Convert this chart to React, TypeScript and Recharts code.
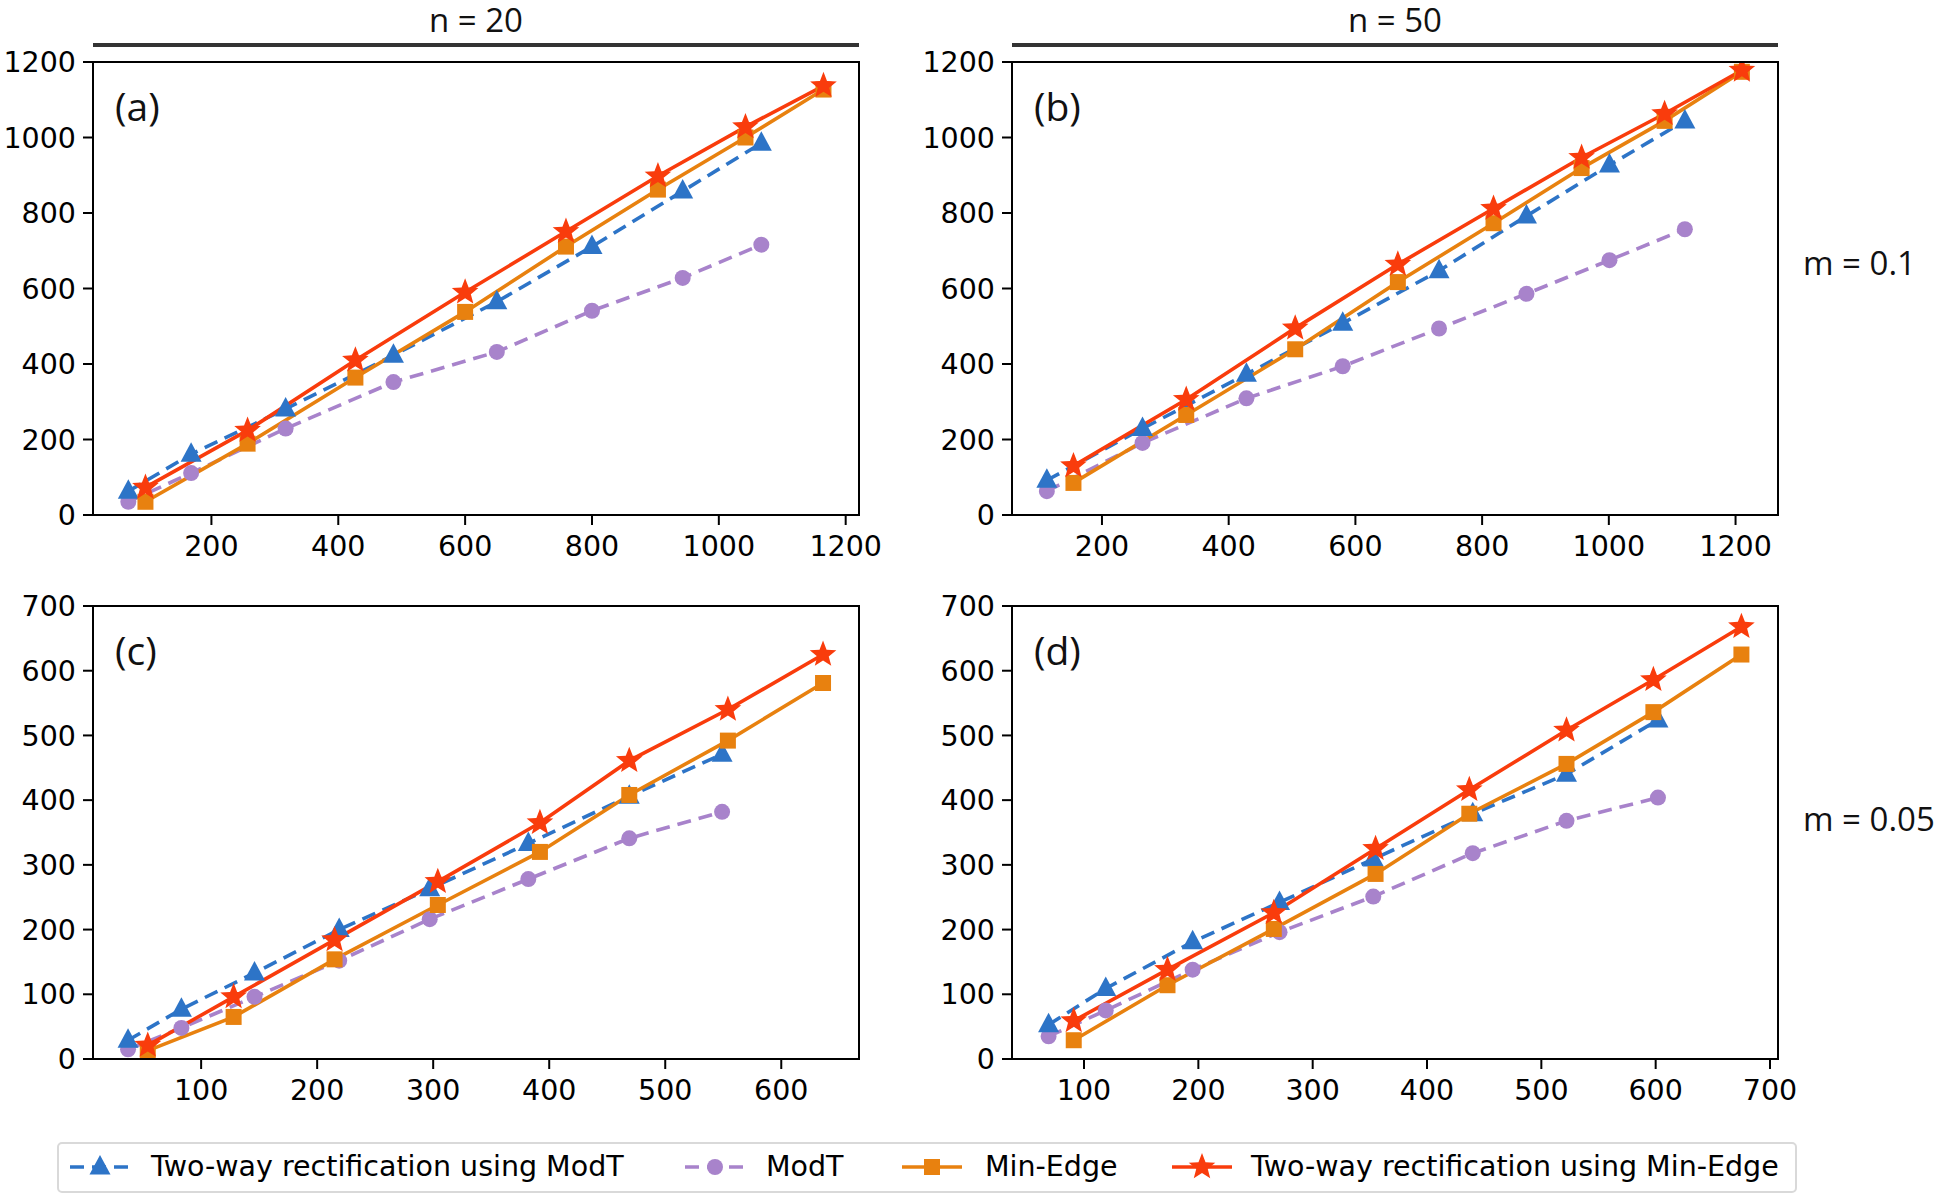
import React from "react"
import { LineChart, Line, XAxis, YAxis } from "recharts"

// colours of the four methods
const BLUE = "#2d74c7"
const PURPLE = "#a883cb"
const ORANGE = "#e8810f"
const RED = "#f93c0c"

const seriesNames = [
  "Two-way rectification using ModT",
  "ModT",
  "Min-Edge",
  "Two-way rectification using Min-Edge",
]

// (a) n = 20, m = 0.1
const aModTX = [69, 168, 317, 487, 650, 800, 943, 1067]
const aTwoWayModT = [63, 161, 281, 423, 565, 711, 858, 985]
const aModT = [35, 111, 229, 352, 432, 541, 628, 716]
const aMinEdgeX = [96, 257, 427, 600, 759, 904, 1042, 1165]
const aMinEdge = [35, 189, 364, 538, 711, 862, 1000, 1127]
const aTwoWayMinEdge = [73, 224, 410, 590, 751, 898, 1028, 1137]

// (b) n = 50, m = 0.1
const bModTX = [113, 264, 428, 580, 732, 870, 1001, 1120]
const bTwoWayModT = [92, 229, 373, 508, 647, 792, 927, 1044]
const bModT = [63, 191, 309, 394, 494, 586, 675, 757]
const bMinEdgeX = [155, 333, 505, 667, 818, 957, 1088, 1210]
const bMinEdge = [85, 265, 439, 617, 773, 919, 1044, 1174]
const bTwoWayMinEdge = [130, 306, 495, 664, 812, 947, 1063, 1178]

// (c) n = 20, m = 0.05
const cModTX = [37, 83, 146, 219, 297, 382, 469, 549]
const cTwoWayModT = [29, 77, 133, 200, 263, 333, 406, 471]
const cModT = [15, 48, 96, 152, 216, 278, 341, 382]
const cMinEdgeX = [54, 128, 215, 304, 392, 469, 554, 636]
const cMinEdge = [13, 65, 154, 238, 320, 408, 492, 581]
const cTwoWayMinEdge = [21, 96, 184, 274, 365, 461, 540, 625]

// (d) n = 50, m = 0.05
const dModTX = [69, 119, 195, 271, 353, 440, 522, 602]
const dTwoWayModT = [53, 109, 181, 242, 309, 379, 440, 524]
const dModT = [35, 75, 138, 196, 251, 318, 368, 404]
const dMinEdgeX = [91, 173, 266, 355, 437, 522, 598, 675]
const dMinEdge = [29, 114, 201, 286, 379, 456, 536, 625]
const dTwoWayMinEdge = [59, 138, 226, 325, 416, 508, 586, 668]

const ticks1200 = [0, 200, 400, 600, 800, 1000, 1200]
const ticks700 = [0, 100, 200, 300, 400, 500, 600, 700]
const xTicksA = [200, 400, 600, 800, 1000, 1200]
const xTicksC = [100, 200, 300, 400, 500, 600]
const xTicksD = [100, 200, 300, 400, 500, 600, 700]

const PLOT_W = 766
const PLOT_H = 453
const Y_W = 92
const X_H = 56
const M_TOP = 24
const M_RIGHT = 44

const tickFont = { fontFamily: "DejaVu Sans", fontSize: 28.5, fill: "#000" }
const labelFont = "'Open Sans', 'DejaVu Sans', sans-serif"
const DASH = "14 8"

type Shape = "triangle" | "circle" | "square" | "star"

function markerPath(shape: Shape, cx: number, cy: number, s = 1) {
  if (shape === "triangle") {
    return `M${cx},${cy - 12 * s} L${cx + 10.5 * s},${cy + 7.5 * s} L${cx - 10.5 * s},${cy + 7.5 * s} Z`
  }
  if (shape === "square") {
    const h = 8 * s
    return `M${cx - h},${cy - h} h${2 * h} v${2 * h} h${-2 * h} Z`
  }
  if (shape === "star") {
    let d = ""
    for (let i = 0; i < 10; i++) {
      const r = (i % 2 === 0 ? 14 : 6) * s
      const a = -Math.PI / 2 + (i * Math.PI) / 5
      d += `${i === 0 ? "M" : "L"}${cx + r * Math.cos(a)},${cy + r * Math.sin(a)} `
    }
    return d + "Z"
  }
  const r = 8 * s
  return `M${cx - r},${cy} a${r},${r} 0 1,0 ${2 * r},0 a${r},${r} 0 1,0 ${-2 * r},0`
}

const makeDot = (shape: Shape, color: string) => (props: any) => {
  const { cx, cy, index } = props
  if (cx == null || cy == null) return <g key={index} />
  return <path key={index} d={markerPath(shape, cx, cy)} fill={color} />
}

const pts = (xs: number[], ys: number[]) => xs.map((x, i) => ({ x, y: ys[i] }))

interface Series {
  name: string
  color: string
  dashed: boolean
  shape: Shape
  data: { x: number; y: number }[]
}

// draw order: purple underneath, red on top
function buildSeries(modX: number[], twoMod: number[], mod: number[], minX: number[], minE: number[], twoMin: number[]): Series[] {
  return [
    { name: seriesNames[1], color: PURPLE, dashed: true, shape: "circle", data: pts(modX, mod) },
    { name: seriesNames[0], color: BLUE, dashed: true, shape: "triangle", data: pts(modX, twoMod) },
    { name: seriesNames[2], color: ORANGE, dashed: false, shape: "square", data: pts(minX, minE) },
    { name: seriesNames[3], color: RED, dashed: false, shape: "star", data: pts(minX, twoMin) },
  ]
}

interface PanelProps {
  left: number
  top: number
  label: string
  xDomain: [number, number]
  xTicks: number[]
  yDomain: [number, number]
  yTicks: number[]
  series: Series[]
}

function Panel({ left, top, label, xDomain, xTicks, yDomain, yTicks, series }: PanelProps) {
  return (
    <>
      <div style={{ position: "absolute", left: left - Y_W, top: top - M_TOP }}>
        <LineChart
          width={Y_W + PLOT_W + M_RIGHT}
          height={M_TOP + PLOT_H + X_H}
          margin={{ top: M_TOP, right: M_RIGHT, bottom: 0, left: 0 }}
        >
          <XAxis
            type="number"
            dataKey="x"
            domain={xDomain}
            ticks={xTicks}
            interval={0}
            allowDataOverflow
            height={X_H}
            axisLine={false}
            tickSize={10}
            tickMargin={11}
            tickLine={{ stroke: "#000", strokeWidth: 2 }}
            tick={tickFont}
          />
          <YAxis
            type="number"
            domain={yDomain}
            ticks={yTicks}
            interval={0}
            allowDataOverflow
            width={Y_W}
            axisLine={false}
            tickSize={10}
            tickMargin={7}
            tickLine={{ stroke: "#000", strokeWidth: 2 }}
            tick={tickFont}
          />
          {series.map((s) => (
            <Line
              key={s.name}
              data={s.data}
              dataKey="y"
              name={s.name}
              type="linear"
              stroke={s.color}
              strokeWidth={3.6}
              strokeDasharray={s.dashed ? DASH : undefined}
              dot={makeDot(s.shape, s.color)}
              activeDot={false}
              isAnimationActive={false}
            />
          ))}
        </LineChart>
      </div>
      <div
        style={{
          position: "absolute",
          left: left - 1,
          top: top - 1,
          width: PLOT_W + 2,
          height: PLOT_H + 2,
          border: "2px solid #000",
          boxSizing: "border-box",
          pointerEvents: "none",
        }}
      />
      <div
        style={{
          position: "absolute",
          left: left + 22,
          top: top + 18,
          fontFamily: labelFont,
          fontSize: 39,
          lineHeight: "52px",
          color: "#111",
        }}
      >
        {label}
      </div>
    </>
  )
}

function ColumnHeader({ left, text }: { left: number; text: string }) {
  return (
    <>
      <div
        style={{
          position: "absolute",
          left,
          top: 0,
          width: PLOT_W,
          textAlign: "center",
          fontFamily: labelFont,
          fontSize: 33,
          lineHeight: "40px",
          color: "#111",
        }}
      >
        {text}
      </div>
      <div style={{ position: "absolute", left, top: 43, width: PLOT_W, height: 4, background: "#333" }} />
    </>
  )
}

function RowLabel({ top, text }: { top: number; text: string }) {
  return (
    <div
      style={{
        position: "absolute",
        left: 1803,
        top: top - 22,
        fontFamily: labelFont,
        fontSize: 33,
        lineHeight: "44px",
        color: "#111",
        whiteSpace: "nowrap",
      }}
    >
      {text}
    </div>
  )
}

const legendItems: { color: string; dashed: boolean; shape: Shape; markerX: number; textX: number }[] = [
  { color: BLUE, dashed: true, shape: "triangle", markerX: 68, textX: 149 },
  { color: PURPLE, dashed: true, shape: "circle", markerX: 683, textX: 764 },
  { color: ORANGE, dashed: false, shape: "square", markerX: 900, textX: 983 },
  { color: RED, dashed: false, shape: "star", markerX: 1170, textX: 1249 },
]

function SharedLegend() {
  return (
    <div
      style={{
        position: "absolute",
        left: 57,
        top: 1142,
        width: 1740,
        height: 51,
        border: "2px solid #d9d9d9",
        borderRadius: 5,
        boxSizing: "border-box",
        background: "#fff",
      }}
    >
      {legendItems.map((it, i) => (
        <React.Fragment key={i}>
          <svg
            width={62}
            height={30}
            style={{ position: "absolute", left: it.markerX - 57, top: 8 }}
          >
            <line
              x1={0}
              x2={60}
              y1={15}
              y2={15}
              stroke={it.color}
              strokeWidth={3.6}
              strokeDasharray={it.dashed ? DASH : undefined}
            />
            <path d={markerPath(it.shape, 30, 15)} fill={it.color} />
          </svg>
          <div
            style={{
              position: "absolute",
              left: it.textX - 57,
              top: 4,
              fontFamily: "DejaVu Sans",
              fontSize: 28.5,
              lineHeight: "38px",
              color: "#000",
              whiteSpace: "nowrap",
            }}
          >
            {seriesNames[i]}
          </div>
        </React.Fragment>
      ))}
    </div>
  )
}

export default function App() {
  return (
    <div style={{ position: "absolute", left: 0, top: 0, width: 1943, height: 1197, background: "#fff" }}>
      <ColumnHeader left={93} text="n = 20" />
      <ColumnHeader left={1012} text="n = 50" />
      <Panel
        left={93}
        top={62}
        label="(a)"
        xDomain={[13.3, 1221]}
        xTicks={xTicksA}
        yDomain={[0, 1200]}
        yTicks={ticks1200}
        series={buildSeries(aModTX, aTwoWayModT, aModT, aMinEdgeX, aMinEdge, aTwoWayMinEdge)}
      />
      <Panel
        left={1012}
        top={62}
        label="(b)"
        xDomain={[58, 1267]}
        xTicks={xTicksA}
        yDomain={[0, 1200]}
        yTicks={ticks1200}
        series={buildSeries(bModTX, bTwoWayModT, bModT, bMinEdgeX, bMinEdge, bTwoWayMinEdge)}
      />
      <Panel
        left={93}
        top={606}
        label="(c)"
        xDomain={[6.8, 667]}
        xTicks={xTicksC}
        yDomain={[0, 700]}
        yTicks={ticks700}
        series={buildSeries(cModTX, cTwoWayModT, cModT, cMinEdgeX, cMinEdge, cTwoWayMinEdge)}
      />
      <Panel
        left={1012}
        top={606}
        label="(d)"
        xDomain={[37, 707]}
        xTicks={xTicksD}
        yDomain={[0, 700]}
        yTicks={ticks700}
        series={buildSeries(dModTX, dTwoWayModT, dModT, dMinEdgeX, dMinEdge, dTwoWayMinEdge)}
      />
      <RowLabel top={263} text="m = 0.1" />
      <RowLabel top={819} text="m = 0.05" />
      <SharedLegend />
    </div>
  )
}
